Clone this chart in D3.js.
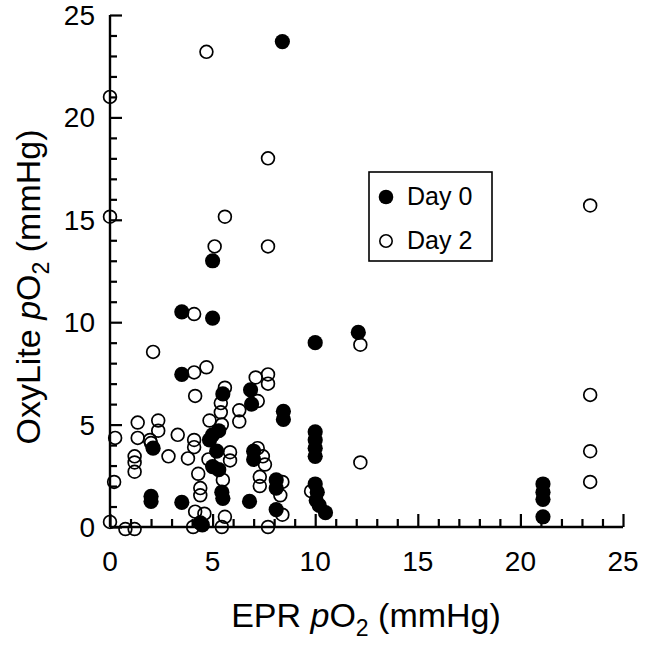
<!DOCTYPE html>
<html>
<head>
<meta charset="utf-8">
<script src="https://cdn.jsdelivr.net/npm/d3@7/dist/d3.min.js"></script>
<style>
  html, body { margin: 0; padding: 0; background: #fff; }
  svg { display: block; font-family: "Liberation Sans", Arial, Helvetica, sans-serif; }
</style>
</head>
<body>
<script>
// ---- Data ----
const day0X = [8.4, 5.0, 3.5, 5.0, 10.0, 12.1, 3.5, 5.5, 6.85, 6.9, 8.45, 8.45, 10.0, 10.0, 10.0, 10.0,
               5.0, 4.85, 5.3, 5.2, 2.1, 5.0, 5.3, 7.0, 7.0, 8.1, 8.1, 8.1, 6.8, 5.45, 5.5, 2.0, 2.0, 3.5,
               10.0, 10.1, 10.05, 10.2, 10.5, 4.5, 4.4, 21.1, 21.1, 21.1, 21.1];
const day0Y = [23.7, 13.0, 10.5, 10.2, 9.0, 9.5, 7.45, 6.5, 6.7, 6.0, 5.65, 5.25, 4.65, 4.25, 3.85, 3.45,
               4.5, 4.25, 4.7, 3.7, 3.85, 2.95, 2.8, 3.7, 3.3, 2.3, 1.9, 0.85, 1.25, 1.7, 1.4, 1.5, 1.25, 1.2,
               2.1, 1.7, 1.3, 1.05, 0.7, 0.1, 0.2, 2.1, 1.7, 1.35, 0.5];

const day2X = [4.7, 0.0, 7.7, 0.0, 5.6, 5.1, 7.7, 4.1, 2.1, 12.2, 23.4, 23.4, 23.4, 23.4, 12.2,
               7.7, 7.1, 7.7, 7.2, 6.3, 6.3, 4.1, 4.7, 4.15, 5.6, 5.4, 5.4, 5.45, 4.85, 1.35, 2.35, 2.35,
               1.35, 0.25, 1.95, 2.0, 3.3, 2.85, 1.2, 1.2, 1.2, 3.8, 4.1, 4.1, 4.8, 4.3, 4.4, 4.4, 0.2,
               0.0, 0.75, 1.2, 4.15, 4.6, 4.05, 5.45, 5.6, 5.85, 5.85, 5.5, 7.2, 7.45, 7.55, 7.3, 7.3,
               8.4, 8.3, 8.4, 7.7, 9.8];
const day2Y = [23.2, 21.0, 18.0, 15.15, 15.15, 13.7, 13.7, 10.4, 8.55, 8.9, 15.7, 6.45, 3.7, 2.2, 3.15,
               7.45, 7.3, 7.0, 6.15, 5.7, 5.15, 7.55, 7.8, 6.4, 6.8, 6.05, 5.6, 5.0, 5.2, 5.1, 5.2, 4.7,
               4.35, 4.35, 4.25, 4.1, 4.5, 3.45, 3.45, 3.15, 2.7, 3.35, 4.25, 3.9, 3.3, 2.6, 1.9, 1.55, 2.2,
               0.25, -0.1, -0.1, 0.75, 0.65, 0.0, 0.0, 0.5, 3.65, 3.25, 2.3, 3.85, 3.45, 3.05, 2.45, 2.0,
               2.2, 1.55, 0.6, 0.0, 1.75];

const xTicks = [0, 5, 10, 15, 20, 25];
const yTicks = [0, 5, 10, 15, 20, 25];
const seriesNames = ["Day 0", "Day 2"];

// ---- Layout ----
const W = 645, H = 645;
const svg = d3.select("body").append("svg").attr("width", W).attr("height", H);

const x = d3.scaleLinear().domain([0, 25]).range([110, 623]);
const y = d3.scaleLinear().domain([0, 25]).range([527, 15]);

const minor = d3.range(0, 26, 1);

// X axis: ticks pointing up (inward)
const gx = svg.append("g").attr("transform", `translate(0,${y(0)})`);
gx.call(d3.axisBottom(x).tickValues(minor).tickSize(-8).tickFormat(""))
  .call(g => g.select(".domain").attr("stroke-width", 2.4).attr("d", `M${x(0)},0H${x(25)}`))
  .call(g => g.selectAll(".tick line").attr("stroke-width", 2.2)
      .attr("y2", d => d % 5 === 0 ? -13 : -8));
gx.selectAll(".tick text").remove();
svg.append("g").selectAll("text").data(xTicks).join("text")
  .attr("x", d => x(d)).attr("y", 571)
  .attr("text-anchor", "middle").attr("font-size", 28).attr("fill", "#000")
  .text(d => d);

// Y axis: ticks pointing right (inward)
const gy = svg.append("g").attr("transform", `translate(${x(0)},0)`);
gy.call(d3.axisLeft(y).tickValues(minor).tickSize(-7).tickFormat(""))
  .call(g => g.select(".domain").attr("stroke-width", 2.4).attr("d", `M0,${y(0)}V${y(25)}`))
  .call(g => g.selectAll(".tick line").attr("stroke-width", 2.2)
      .attr("x2", d => d % 5 === 0 ? 12 : 7));
svg.append("g").selectAll("text").data(yTicks).join("text")
  .attr("x", 95).attr("y", d => y(d) + 10)
  .attr("text-anchor", "end").attr("font-size", 28).attr("fill", "#000")
  .text(d => d);

// Axis titles
const xt = svg.append("text").attr("x", 366).attr("y", 627)
  .attr("text-anchor", "middle").attr("font-size", 34).attr("fill", "#000");
xt.append("tspan").text("EPR ");
xt.append("tspan").attr("font-style", "italic").text("p");
xt.append("tspan").text("O");
xt.append("tspan").attr("font-size", 23).attr("dy", 9).text("2");
xt.append("tspan").attr("dy", -9).text(" (mmHg)");

const yt = svg.append("text").attr("transform", "translate(40,287) rotate(-90)")
  .attr("text-anchor", "middle").attr("font-size", 34).attr("fill", "#000");
yt.append("tspan").text("OxyLite ");
yt.append("tspan").attr("font-style", "italic").text("p");
yt.append("tspan").text("O");
yt.append("tspan").attr("font-size", 23).attr("dy", 9).text("2");
yt.append("tspan").attr("dy", -9).text(" (mmHg)");

// Points
const d2 = day2X.map((v, i) => ({x: v, y: day2Y[i]}));
const d0 = day0X.map((v, i) => ({x: v, y: day0Y[i]}));

svg.append("g").selectAll("circle").data(d2).join("circle")
  .attr("cx", d => x(d.x)).attr("cy", d => y(d.y)).attr("r", 6.4)
  .attr("fill", "none").attr("stroke", "#000").attr("stroke-width", 1.7);

svg.append("g").selectAll("circle").data(d0).join("circle")
  .attr("cx", d => x(d.x)).attr("cy", d => y(d.y)).attr("r", 7.6)
  .attr("fill", "#000");

// Legend
const lg = svg.append("g");
lg.append("rect").attr("x", 369).attr("y", 172).attr("width", 123).attr("height", 89)
  .attr("fill", "#fff").attr("stroke", "#000").attr("stroke-width", 1.6);
lg.append("circle").attr("cx", 386).attr("cy", 197).attr("r", 7.3).attr("fill", "#000");
lg.append("circle").attr("cx", 386).attr("cy", 241).attr("r", 6.2)
  .attr("fill", "none").attr("stroke", "#000").attr("stroke-width", 1.6);
lg.selectAll("text.lab").data(seriesNames).join("text").attr("class", "lab")
  .attr("x", 407).attr("y", (d, i) => 205 + i * 44)
  .attr("font-size", 25).attr("fill", "#000").text(d => d);
</script>
</body>
</html>
